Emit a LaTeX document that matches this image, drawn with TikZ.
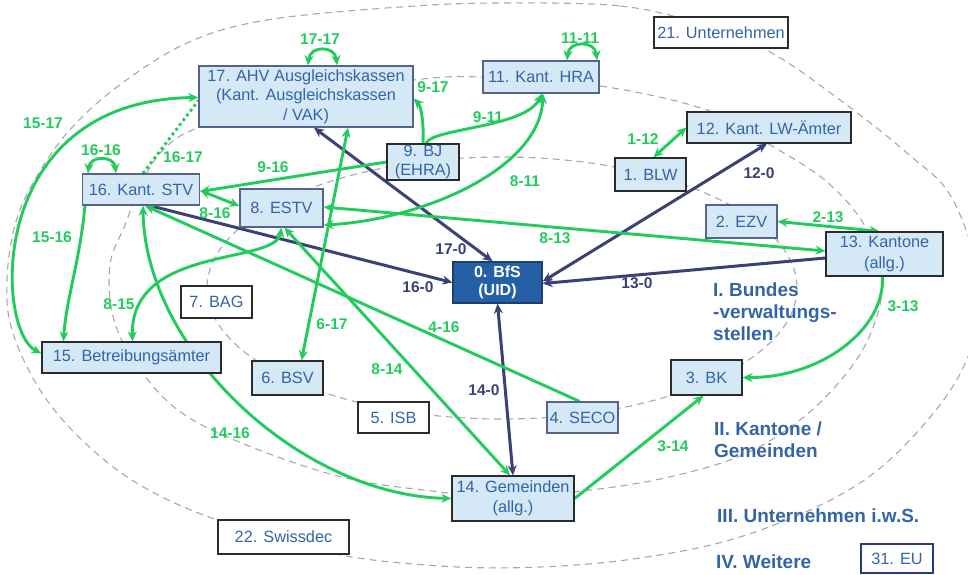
\documentclass[tikz,border=0pt]{standalone}
\usepackage{fontspec}
\setmainfont{Liberation Sans}
\usetikzlibrary{arrows.meta}
\definecolor{gr}{HTML}{22CC5C}
\definecolor{nv}{HTML}{3A4275}
\definecolor{tb}{HTML}{3464A8}
\definecolor{fb}{HTML}{D4E9F5}
\definecolor{bd}{HTML}{2B2B2B}
\definecolor{bs}{HTML}{55648A}
\definecolor{bfsfill}{HTML}{2560A6}
\definecolor{bfsdraw}{HTML}{1E3F6E}
\definecolor{dg}{HTML}{A8A8A8}
\definecolor{eub}{HTML}{2A3A7A}
\pgfdeclarelayer{bg}
\pgfsetlayers{bg,main}
\tikzset{
  box/.style={draw=bd, line width=1.3pt, fill=fb, text=tb, font=\fontsize{16.3}{19.5}\selectfont, inner sep=0pt, align=center},
  wbox/.style={box, fill=white},
  sbox/.style={box, draw=bs},
  gl/.style={draw=gr, line width=2.9pt, >={Stealth[length=10pt,width=9pt]}},
  gdot/.style={draw=gr, line width=2.9pt, dash pattern=on 2.8pt off 3.2pt},
  nl/.style={draw=nv, line width=3pt, >={Stealth[length=10pt,width=9pt]}},
  glab/.style={text=gr, font=\bfseries\fontsize{15.5}{18}\selectfont, inner sep=0pt},
  nlab/.style={glab, text=nv},
  big/.style={text=tb, font=\bfseries\fontsize{19}{22}\selectfont, align=left, inner sep=0pt},
  ell/.style={draw=dg, line width=1.1pt, dash pattern=on 7pt off 5pt}
}
\begin{document}
\begin{tikzpicture}[x=1pt,y=-1pt]
\useasboundingbox (0,0) rectangle (968,574);
% nodes
\node[sbox, minimum width=214pt, minimum height=61pt] (ahv) at (306,96.5) {17. AHV Ausgleichskassen\\(Kant. Ausgleichskassen\\/ VAK)};
\node[sbox, minimum width=116pt, minimum height=32pt] (hra) at (541,77) {11. Kant. HRA};
\node[wbox, minimum width=134pt, minimum height=31pt] (u21) at (721,32.5) {21. Unternehmen};
\node[box, minimum width=164pt, minimum height=31pt] (lw) at (769,127.5) {12. Kant. LW-Ämter};
\node[box, minimum width=72pt, minimum height=36pt] (bj) at (423,162) {9. BJ\\(EHRA)};
\node[box, minimum width=71pt, minimum height=33pt] (blw) at (650.5,174.5) {1. BLW};
\node[sbox, minimum width=117pt, minimum height=31pt] (stv) at (141,189.5) {16. Kant. STV};
\node[sbox, minimum width=83pt, minimum height=38pt] (estv) at (281.5,208) {8. ESTV};
\node[sbox, minimum width=71pt, minimum height=33pt] (ezv) at (741.5,221.5) {2. EZV};
\node[box, minimum width=117pt, minimum height=44pt] (kant) at (884.5,254) {13. Kantone\\[1.5pt](allg.)};
\node[box, draw=bfsdraw, fill=bfsfill, text=white, font=\bfseries\fontsize{16}{18}\selectfont, minimum width=89pt, minimum height=41pt] (bfs) at (497.5,282.5) {0. BfS\\(UID)};
\node[wbox, minimum width=71pt, minimum height=32pt] (bag) at (216.5,302) {7. BAG};
\node[box, minimum width=179pt, minimum height=31pt] (betr) at (131.5,357.5) {15. Betreibungsämter};
\node[box, minimum width=71pt, minimum height=34pt] (bsv) at (287.5,378) {6. BSV};
\node[box, minimum width=71pt, minimum height=35pt] (bk) at (706.5,377.5) {3. BK};
\node[wbox, minimum width=71pt, minimum height=31pt] (isb) at (393.5,417.5) {5. ISB};
\node[sbox, minimum width=71pt, minimum height=31pt] (seco) at (582.5,417.5) {4. SECO};
\node[box, minimum width=122pt, minimum height=45pt] (gem) at (513,498.5) {14. Gemeinden\\(allg.)};
\node[wbox, minimum width=131pt, minimum height=34pt] (swiss) at (283.5,537) {22. Swissdec};
\node[wbox, draw=eub, minimum width=72pt, minimum height=29pt] (eu) at (897,558.5) {31. EU};
% big labels
\node[big, anchor=north west] (lI) at (713,283) {I. Bundes\\-verwaltungs-\\stellen};
\node[big, anchor=north west] (lII) at (714,422) {II. Kantone /\\Gemeinden};
\node[big, anchor=north west] (lIII) at (717,509) {III. Unternehmen i.w.S.};
\node[big, anchor=north west] (lIV) at (716,555) {IV. Weitere};
% connector labels
\node[glab] (t1717) at (320,39) {17-17};
\node[glab] (t1111) at (580,38) {11-11};
\node[glab] (t1616) at (101,150) {16-16};
\node[glab] (t1517) at (43,123) {15-17};
\node[glab] (t1617) at (183,157) {16-17};
\node[glab] (t917) at (433,87) {9-17};
\node[glab] (t911) at (488,117) {9-11};
\node[glab] (t916) at (273,167) {9-16};
\node[glab] (t811) at (525,181) {8-11};
\node[glab] (t816) at (215,213) {8-16};
\node[glab] (t813) at (555,238) {8-13};
\node[glab] (t112) at (643,139) {1-12};
\node[glab] (t213) at (828,217) {2-13};
\node[glab] (t1516) at (52,237) {15-16};
\node[glab] (t815) at (119,304) {8-15};
\node[glab] (t617) at (332,324) {6-17};
\node[glab] (t416) at (444,327) {4-16};
\node[glab] (t814) at (387,369) {8-14};
\node[glab] (t1416) at (230,433) {14-16};
\node[glab] (t313) at (903,306) {3-13};
\node[glab] (t314) at (673,446) {3-14};
\node[nlab] (t120) at (759,173) {12-0};
\node[nlab] (t170) at (451,249) {17-0};
\node[nlab] (t160) at (418,287) {16-0};
\node[nlab] (t130) at (637,283) {13-0};
\node[nlab] (t140) at (484,390) {14-0};
\begin{pgfonlayer}{bg}
% dashed rings
\draw[ell] (502,288) ellipse [x radius=295, y radius=131];
\draw[ell] plot[smooth cycle, tension=0.6] coordinates {(480,77) (600,86) (707,110) (767,143) (827,182) (866,228) (882,282) (872,330) (846,374) (800,420) (740,456) (660,479) (574,492) (500,497) (440,492) (330,474) (200,424) (143,374) (114,320) (110,265) (125,225) (143,180) (165,148) (200,127) (300,96) (413,80)};
\draw[ell] plot[smooth cycle, tension=0.6] coordinates {(500,3) (620,6) (700,24) (770,52) (840,100) (907,153) (953,200) (980,290) (962,370) (905,445) (840,495) (740,537) (640,558) (540,567) (440,566) (330,553) (217,520) (140,485) (83,441) (40,390) (12,330) (7,280) (15,225) (33,183) (67,133) (117,87) (187,43) (267,20) (400,7)};
% navy connectors
\draw[nl,<->] ([xshift=8pt]ahv.south) -- ([xshift=-5pt]bfs.north);
\draw[nl,->] ([xshift=9pt]stv.south) -- (bfs.west);
\draw[nl,<->] ([xshift=-2pt]lw.south) -- ([yshift=1pt]bfs.east);
\draw[nl,->] ([yshift=-4pt]kant.west) -- ([yshift=-1pt]bfs.east);
\draw[nl,<->] (gem.north) -- (bfs.south);
% green connectors
\draw[gl,<->] ([xshift=2pt]ahv.north) .. controls +(2,-20) and +(-2,-20) .. ([xshift=31pt]ahv.north);
\draw[gl,<->] ([xshift=26pt]hra.north) .. controls +(2,-20) and +(-2,-20) .. ([xshift=56pt]hra.north);
\draw[gl,<->] ([xshift=-53pt]stv.north) .. controls +(2,-18) and +(-2,-18) .. ([xshift=-25pt]stv.north);
\draw[gl,<->] ([yshift=-1pt]ahv.west) .. controls (-15,100) and (-5,330) .. ([yshift=4pt]betr.west);
\draw[gl,->] ([xshift=-56pt]stv.south) .. controls (80,260) and (66,300) .. ([xshift=-68pt]betr.north);
\draw[gdot] ([xshift=2pt]stv.north) -- ([yshift=-4pt]ahv.west);
\draw[gl,->] (bj.north) .. controls (424,122) and (421,106) .. ([yshift=-2pt]ahv.east);
\draw[gl,->] ([xshift=3pt]bj.north) .. controls (432,128) and (525,128) .. ([xshift=1pt]hra.south);
\draw[gl,<->] ([yshift=-17pt]estv.east) .. controls (420,220) and (540,170) .. ([xshift=2pt]hra.south);
\draw[gl,->] (bj.west) -- ([yshift=-2pt]stv.east);
\draw[gl,<->] ([yshift=-1pt]stv.east) -- ([yshift=2pt]estv.west);
\draw[gl,<->] ([yshift=1pt]estv.east) -- ([yshift=3pt]kant.west);
\draw[gl,<->] (ezv.east) -- ([xshift=-5pt]kant.north);
\draw[gl,<->] ([xshift=3pt]blw.north) -- (lw.west);
\draw[gl,->] ([xshift=-2pt]kant.south) .. controls (885,330) and (820,378) .. (bk.east);
\draw[gl,->] (gem.east) -- ([xshift=-3pt]bk.south);
\draw[gl,<->] ([xshift=2pt]stv.south) .. controls (145,350) and (300,495) .. (gem.west);
\draw[gl,<->] (estv.south) .. controls (275,265) and (130,245) .. ([xshift=1pt]betr.north);
\draw[gl,<->] ([xshift=3pt]estv.south) -- ([xshift=-3pt]gem.north);
\draw[gl,<->] ([xshift=14pt]bsv.north) -- ([xshift=42pt]ahv.south);
\draw[gl,->] ([xshift=-3pt]seco.north) -- ([xshift=4pt]stv.south);
\end{pgfonlayer}
\end{tikzpicture}
\end{document}
